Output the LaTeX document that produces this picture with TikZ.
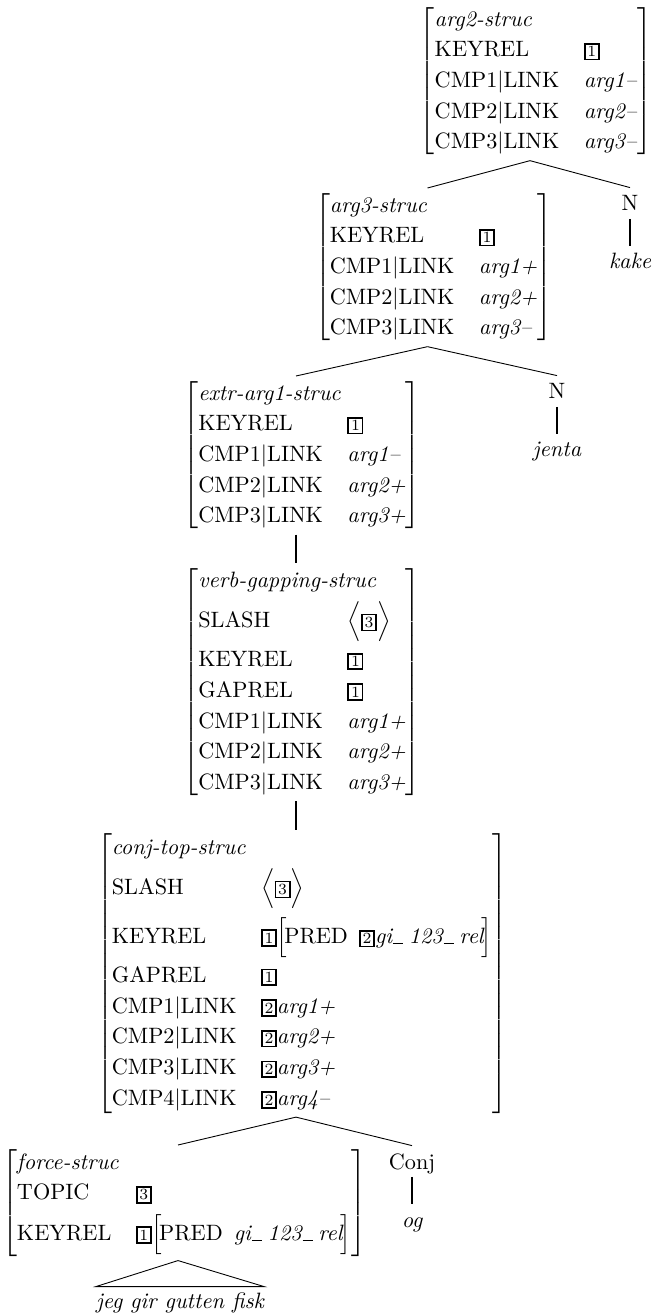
\documentclass[tikz,border=0pt]{standalone}
\usepackage{amsmath}
\usepackage{tikz}
\newcommand{\avm}[2][ll]{\ensuremath{\left[\begin{tabular}{@{}#1@{}}#2\end{tabular}\right]}}
\newcommand{\tagbox}[1]{{\setlength{\fboxsep}{0.8pt}\setlength{\fboxrule}{0.8pt}\fbox{\scriptsize #1}}}
\newcommand{\tallrow}[0]{\rule[-8pt]{0pt}{22pt}}
\newcommand{\us}[0]{\kern0.4pt\vbox{\hrule width 4.6pt}\kern2.5pt}
\renewcommand{\arraystretch}{1.15}
\setlength{\tabcolsep}{5.5pt}

\begin{document}
\begin{tikzpicture}[x=0.45pt, y=-0.45pt]
  \tikzset{avm/.style={inner sep=1pt, anchor=north, execute at begin node={\kern5.4pt}},
    cat/.style={anchor=base, text height=7pt, text depth=0pt},
    word/.style={anchor=base, text height=7pt, font=\itshape},
    roofleaf/.style={anchor=base, inner xsep=0pt, inner ysep=2.4pt, text height=7pt, font=\itshape},
    unary/.style={line width=0.8pt}}
  \useasboundingbox (0,0) rectangle (652,1316);
  \node[avm] (a1) at (530,2) {\avm{\multicolumn{2}{@{}l@{}}{\textit{arg2-struc}}\\
    KEYREL & \tagbox{1}\\
    CMP1$|$LINK & \textit{arg1--}\\
    CMP2$|$LINK & \textit{arg2--}\\
    CMP3$|$LINK & \textit{arg3--}}};
  \node[avm] (a2) at (427.5,188) {\avm{\multicolumn{2}{@{}l@{}}{\textit{arg3-struc}}\\
    KEYREL & \tagbox{1}\\
    CMP1$|$LINK & \textit{arg1+}\\
    CMP2$|$LINK & \textit{arg2+}\\
    CMP3$|$LINK & \textit{arg3--}}};
  \node[cat] (n1) at (630,211) {N};
  \node[word] (w1) at (630,269) {kake};
  \node[avm] (a3) at (296,376) {\avm{\multicolumn{2}{@{}l@{}}{\textit{extr-arg1-struc}}\\
    KEYREL & \tagbox{1}\\
    CMP1$|$LINK & \textit{arg1--}\\
    CMP2$|$LINK & \textit{arg2+}\\
    CMP3$|$LINK & \textit{arg3+}}};
  \node[cat] (n2) at (557,399) {N};
  \node[word] (w2) at (557,457) {jenta};
  \node[avm] (a4) at (296,563) {\avm{\multicolumn{2}{@{}l@{}}{\textit{verb-gapping-struc}}\\
    SLASH & $\Big\langle\tagbox{3}\Big\rangle$\tallrow\\
    KEYREL & \tagbox{1}\\
    GAPREL & \tagbox{1}\\
    CMP1$|$LINK & \textit{arg1+}\\
    CMP2$|$LINK & \textit{arg2+}\\
    CMP3$|$LINK & \textit{arg3+}}};
  \node[avm] (a5) at (296,830) {\avm{\multicolumn{2}{@{}l@{}}{\textit{conj-top-struc}}\\
    SLASH & $\Big\langle\tagbox{3}\Big\rangle$\tallrow\\
    KEYREL & \tagbox{1}\avm[l]{\kern-1.4pt PRED\enspace\tagbox{2}\textit{gi\us 123\us rel}\kern-1.4pt}\tallrow\\
    GAPREL & \tagbox{1}\\
    CMP1$|$LINK & \tagbox{2}\textit{arg1+}\\
    CMP2$|$LINK & \tagbox{2}\textit{arg2+}\\
    CMP3$|$LINK & \tagbox{2}\textit{arg3+}\\
    CMP4$|$LINK & \tagbox{2}\textit{arg4--}}};
  \node[avm] (a6) at (178,1145) {\avm{\multicolumn{2}{@{}l@{}}{\textit{force-struc}}\\
    TOPIC & \tagbox{3}\\
    KEYREL & \tagbox{1}\avm[l]{\kern-1.4pt PRED\enspace\textit{gi\us 123\us rel}\kern-1.4pt}\tallrow}};
  \node[cat] (c1) at (412,1169) {Conj};
  \node[word] (w3) at (412,1227) {og};
  \node[roofleaf] (r1) at (180,1308) {jeg gir gutten fisk};
  \draw (a1.south) -- (a2.north);
  \draw (a1.south) -- (n1.north);
  \draw[unary] (n1.south) -- (w1.north);
  \draw (a2.south) -- (a3.north);
  \draw (a2.south) -- (n2.north);
  \draw[unary] (n2.south) -- (w2.north);
  \draw[unary] (a3.south) -- (a4.north);
  \draw[unary] (a4.south) -- (a5.north);
  \draw (a5.south) -- (a6.north);
  \draw (a5.south) -- (c1.north);
  \draw[unary] (c1.south) -- (w3.north);
  \draw (a6.south) -- (r1.north west) -- (r1.north east) -- cycle;
\end{tikzpicture}
\end{document}
